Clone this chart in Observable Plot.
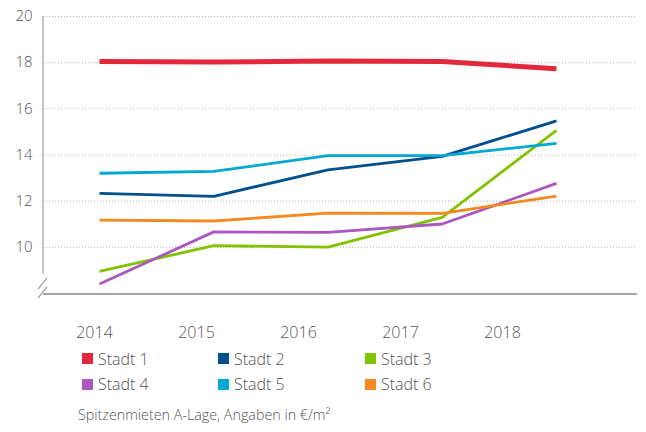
<!DOCTYPE html>
<html>
<head>
<meta charset="utf-8">
<script src="https://cdn.jsdelivr.net/npm/d3@7"></script>
<script src="https://cdn.jsdelivr.net/npm/@observablehq/plot@0.6"></script>
<style>
  html, body { margin: 0; padding: 0; background: #fff; }
  #wrap { position: relative; width: 646px; height: 432px; font-family: "Open Sans", "Noto Sans", sans-serif; font-weight: 300; color: #555; }
  #wrap svg { position: absolute; left: 0; }
  .leg { position: absolute; font-size: 16px; line-height: 20px; white-space: nowrap; }
  .sw { position: absolute; width: 11px; height: 11px; }
  #caption { position: absolute; left: 78px; top: 405px; font-size: 14.3px; line-height: 20px; white-space: nowrap; }
</style>
</head>
<body>
<div id="wrap"></div>
<script>
const years = [2014, 2015, 2016, 2017, 2018];
const cities = ["Stadt 1", "Stadt 2", "Stadt 3", "Stadt 4", "Stadt 5", "Stadt 6"];
const colors = ["#e2283a", "#00508e", "#80c300", "#ab57c0", "#00a8d4", "#f4891f"];
const stadt1 = [18.05, 18.03, 18.07, 18.05, 17.74];
const stadt2 = [12.34, 12.21, 13.36, 13.94, 15.48];
const stadt3 = [8.96, 10.07, 10.01, 11.30, 15.07];
const stadt4 = [8.41, 10.67, 10.65, 11.01, 12.77];
const stadt5 = [13.21, 13.29, 13.97, 13.97, 14.50];
const stadt6 = [11.18, 11.14, 11.48, 11.47, 12.22];
const yTicks = [10, 12, 14, 16, 18, 20];
const caption = "Spitzenmieten A-Lage, Angaben in €/m²";

const series = [stadt1, stadt2, stadt3, stadt4, stadt5, stadt6];
const rows = [];
series.forEach((vals, i) => vals.forEach((v, j) => rows.push({city: cities[i], year: years[j], value: v})));

const axisColor = "#a6a6a6";

function axisWithBreak(index, scales, values, dimensions) {
  const g = d3.create("svg:g");
  const x0 = dimensions.marginLeft;
  const yTop = scales.y(20);
  const yBot = scales.y(8);
  g.append("line").attr("x1", x0).attr("x2", x0).attr("y1", yTop).attr("y2", yBot - 19)
    .attr("stroke", axisColor).attr("stroke-width", 1.3);
  [[-5, -4, 4, -15], [-5, 5, 4, -6]].forEach(([ax, ay, bx, by]) => {
    g.append("line").attr("x1", x0 + ax).attr("y1", yBot + ay).attr("x2", x0 + bx).attr("y2", yBot + by)
      .attr("stroke", axisColor).attr("stroke-width", 1.3);
  });
  return g.node();
}

const main = Plot.plot({
  width: 646,
  height: 300,
  marginTop: 16,
  marginBottom: 7,
  marginLeft: 43,
  marginRight: 9,
  style: {fontFamily: "'Open Sans', 'Noto Sans', sans-serif", fontWeight: 300, color: "#555", background: "transparent"},
  x: {domain: [2014, 2018], range: [99, 556], axis: null},
  y: {domain: [8, 20]},
  color: {domain: cities, range: colors},
  marks: [
    Plot.ruleY(yTicks, {stroke: "#b5b5b5", strokeWidth: 1, strokeDasharray: "1,2"}),
    Plot.ruleY([8], {stroke: axisColor, strokeWidth: 2.2, dy: 0.5}),
    axisWithBreak,
    Plot.axisY({ticks: yTicks, tickSize: 0, tickPadding: 11, fontSize: 15, fill: "#555", label: null}),
    Plot.line(rows, {x: "year", y: "value", z: "city", stroke: "city",
      strokeWidth: d => d.city === "Stadt 1" ? 5 : 2.8, strokeLinejoin: "miter", strokeLinecap: "butt"})
  ]
});
main.style.top = "0px";

const yearAxis = Plot.plot({
  width: 646,
  height: 44,
  marginTop: 0, marginBottom: 0, marginLeft: 0, marginRight: 0,
  style: {fontFamily: "'Open Sans', 'Noto Sans', sans-serif", fontWeight: 300, background: "transparent"},
  x: {type: "point", domain: years, range: [94, 502], padding: 0, axis: null},
  marks: [
    Plot.text(years, {x: d => d, text: d => String(d), frameAnchor: "top", dy: 32, lineAnchor: "middle", fontSize: 16, fill: "#555"})
  ]
});
yearAxis.style.top = "300px";

const wrap = document.getElementById("wrap");
wrap.appendChild(main);
wrap.appendChild(yearAxis);

const colLeft = [82, 218, 365];
const rowTop = [353, 378.5];
cities.forEach((c, i) => {
  const col = i % 3, row = Math.floor(i / 3);
  const sw = document.createElement("div");
  sw.className = "sw";
  sw.style.left = colLeft[col] + "px";
  sw.style.top = rowTop[row] + "px";
  sw.style.background = colors[i];
  wrap.appendChild(sw);
  const t = document.createElement("div");
  t.className = "leg";
  t.textContent = c;
  t.style.left = (colLeft[col] + 16) + "px";
  t.style.top = (rowTop[row] - 4.5) + "px";
  wrap.appendChild(t);
});
const cap = document.createElement("div");
cap.id = "caption";
cap.textContent = caption;
wrap.appendChild(cap);
</script>
</body>
</html>
